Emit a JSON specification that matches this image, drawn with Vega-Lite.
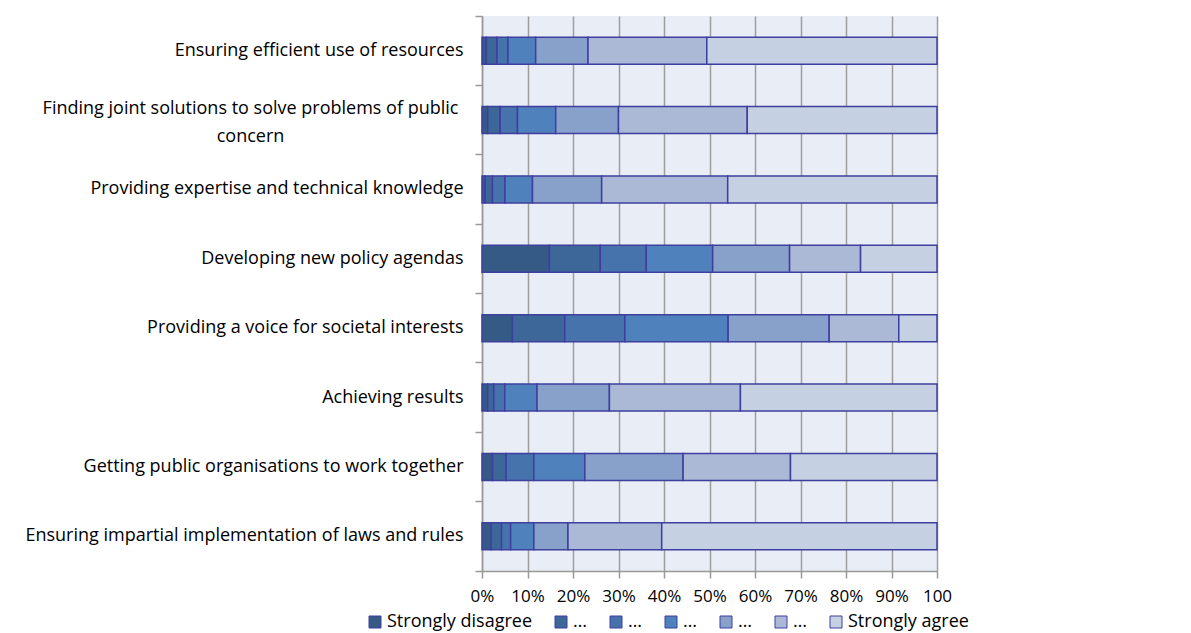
{
  "$schema": "https://vega.github.io/schema/vega-lite/v6.json",
  "autosize": {"type": "none"},
  "width": 455,
  "height": 555,
  "padding": {"left": 482, "top": 16, "right": 254, "bottom": 62},
  "background": "white",
  "config": {
    "font": "Open Sans",
    "view": {"fill": "#E9EDF5", "stroke": null},
    "axis": {"labelFont": "Open Sans", "labelColor": "#000000", "labelFontSize": 18}
  },
  "data": {"values": [
    {"task": "Ensuring efficient use of resources", "level": "1", "value": 0.95},
    {"task": "Ensuring efficient use of resources", "level": "2", "value": 2.35},
    {"task": "Ensuring efficient use of resources", "level": "3", "value": 2.4},
    {"task": "Ensuring efficient use of resources", "level": "4", "value": 6.1},
    {"task": "Ensuring efficient use of resources", "level": "5", "value": 11.5},
    {"task": "Ensuring efficient use of resources", "level": "6", "value": 26.1},
    {"task": "Ensuring efficient use of resources", "level": "7", "value": 50.6},
    {"task": "Finding joint solutions to solve problems of public concern", "level": "1", "value": 1.25},
    {"task": "Finding joint solutions to solve problems of public concern", "level": "2", "value": 2.75},
    {"task": "Finding joint solutions to solve problems of public concern", "level": "3", "value": 3.8},
    {"task": "Finding joint solutions to solve problems of public concern", "level": "4", "value": 8.4},
    {"task": "Finding joint solutions to solve problems of public concern", "level": "5", "value": 13.8},
    {"task": "Finding joint solutions to solve problems of public concern", "level": "6", "value": 28.3},
    {"task": "Finding joint solutions to solve problems of public concern", "level": "7", "value": 41.7},
    {"task": "Providing expertise and technical knowledge", "level": "1", "value": 0.66},
    {"task": "Providing expertise and technical knowledge", "level": "2", "value": 1.64},
    {"task": "Providing expertise and technical knowledge", "level": "3", "value": 2.75},
    {"task": "Providing expertise and technical knowledge", "level": "4", "value": 6.05},
    {"task": "Providing expertise and technical knowledge", "level": "5", "value": 15.2},
    {"task": "Providing expertise and technical knowledge", "level": "6", "value": 27.7},
    {"task": "Providing expertise and technical knowledge", "level": "7", "value": 46.0},
    {"task": "Developing new policy agendas", "level": "1", "value": 14.8},
    {"task": "Developing new policy agendas", "level": "2", "value": 11.2},
    {"task": "Developing new policy agendas", "level": "3", "value": 10.1},
    {"task": "Developing new policy agendas", "level": "4", "value": 14.6},
    {"task": "Developing new policy agendas", "level": "5", "value": 16.9},
    {"task": "Developing new policy agendas", "level": "6", "value": 15.6},
    {"task": "Developing new policy agendas", "level": "7", "value": 16.8},
    {"task": "Providing a voice for societal interests", "level": "1", "value": 6.7},
    {"task": "Providing a voice for societal interests", "level": "2", "value": 11.5},
    {"task": "Providing a voice for societal interests", "level": "3", "value": 13.2},
    {"task": "Providing a voice for societal interests", "level": "4", "value": 22.7},
    {"task": "Providing a voice for societal interests", "level": "5", "value": 22.2},
    {"task": "Providing a voice for societal interests", "level": "6", "value": 15.3},
    {"task": "Providing a voice for societal interests", "level": "7", "value": 8.4},
    {"task": "Achieving results", "level": "1", "value": 1.25},
    {"task": "Achieving results", "level": "2", "value": 1.35},
    {"task": "Achieving results", "level": "3", "value": 2.4},
    {"task": "Achieving results", "level": "4", "value": 7.1},
    {"task": "Achieving results", "level": "5", "value": 15.9},
    {"task": "Achieving results", "level": "6", "value": 28.8},
    {"task": "Achieving results", "level": "7", "value": 43.2},
    {"task": "Getting public organisations to work together", "level": "1", "value": 2.3},
    {"task": "Getting public organisations to work together", "level": "2", "value": 3.0},
    {"task": "Getting public organisations to work together", "level": "3", "value": 6.1},
    {"task": "Getting public organisations to work together", "level": "4", "value": 11.2},
    {"task": "Getting public organisations to work together", "level": "5", "value": 21.6},
    {"task": "Getting public organisations to work together", "level": "6", "value": 23.6},
    {"task": "Getting public organisations to work together", "level": "7", "value": 32.2},
    {"task": "Ensuring impartial implementation of laws and rules", "level": "1", "value": 2.0},
    {"task": "Ensuring impartial implementation of laws and rules", "level": "2", "value": 2.3},
    {"task": "Ensuring impartial implementation of laws and rules", "level": "3", "value": 2.0},
    {"task": "Ensuring impartial implementation of laws and rules", "level": "4", "value": 5.1},
    {"task": "Ensuring impartial implementation of laws and rules", "level": "5", "value": 7.5},
    {"task": "Ensuring impartial implementation of laws and rules", "level": "6", "value": 20.6},
    {"task": "Ensuring impartial implementation of laws and rules", "level": "7", "value": 60.5}
  ]},
  "mark": {"type": "bar", "stroke": "#3F3FA0", "strokeWidth": 1.5, "height": {"band": 0.39}},
  "encoding": {
    "y": {
      "field": "task", "type": "nominal", "sort": null,
      "scale": {"paddingInner": 0, "paddingOuter": 0},
      "axis": {
        "title": null,
        "bandPosition": 1,
        "tickExtra": true,
        "tickSize": 7,
        "tickColor": "#999999",
        "tickWidth": 1.5,
        "domainColor": "#999999",
        "domainWidth": 1.5,
        "labelLimit": 0,
        "labelLineHeight": 28,
        "labelOverlap": false,
        "labelAlign": {"condition": {"test": "datum.value == 'Finding joint solutions to solve problems of public concern'", "value": "center"}, "value": "right"},
        "labelPadding": {"condition": {"test": "datum.value == 'Finding joint solutions to solve problems of public concern'", "value": 225}, "value": 12},
        "labelOffset": {"condition": {"test": "datum.value == 'Finding joint solutions to solve problems of public concern'", "value": -11}, "value": 0},
        "labelExpr": "datum.value == 'Finding joint solutions to solve problems of public concern' ? ['Finding joint solutions to solve problems of public', 'concern'] : datum.value == 'Achieving results' ? 'Achieving results\u00a0' : datum.value"
      }
    },
    "x": {
      "field": "value", "type": "quantitative", "stack": "zero",
      "scale": {"domain": [0, 100], "nice": false},
      "axis": {
        "title": null,
        "values": [0, 10, 20, 30, 40, 50, 60, 70, 80, 90, 100],
        "grid": true,
        "gridColor": "#9E9E9E",
        "gridWidth": 1.5,
        "tickSize": 7,
        "tickColor": "#999999",
        "tickWidth": 1.5,
        "domainColor": "#999999",
        "domainWidth": 1.5,
        "labelFontSize": 17,
        "labelPadding": 10,
        "labelFlush": false,
        "labelOverlap": false,
        "labelExpr": "datum.value == 100 ? '100' : datum.value + '%'"
      }
    },
    "color": {
      "field": "level", "type": "nominal",
      "scale": {
        "domain": ["1", "2", "3", "4", "5", "6", "7"],
        "range": ["#355A86", "#3D6799", "#4673AB", "#4F81BD", "#87A1CB", "#ABB9D6", "#C5D0E2"]
      },
      "legend": {
        "title": null,
        "orient": "none",
        "legendX": -116,
        "legendY": 597,
        "direction": "horizontal",
        "symbolType": "square",
        "symbolSize": 144,
        "symbolStrokeColor": "#3F3FA0",
        "symbolStrokeWidth": 1,
        "symbolOpacity": 1,
        "labelFontSize": 18,
        "labelFont": "Open Sans",
        "labelColor": "#000000",
        "labelOffset": 3,
        "columnPadding": 19,
        "labelExpr": "datum.label == '1' ? 'Strongly disagree' : datum.label == '7' ? 'Strongly agree' : '…'"
      }
    },
    "order": {"field": "level", "type": "ordinal"}
  }
}
